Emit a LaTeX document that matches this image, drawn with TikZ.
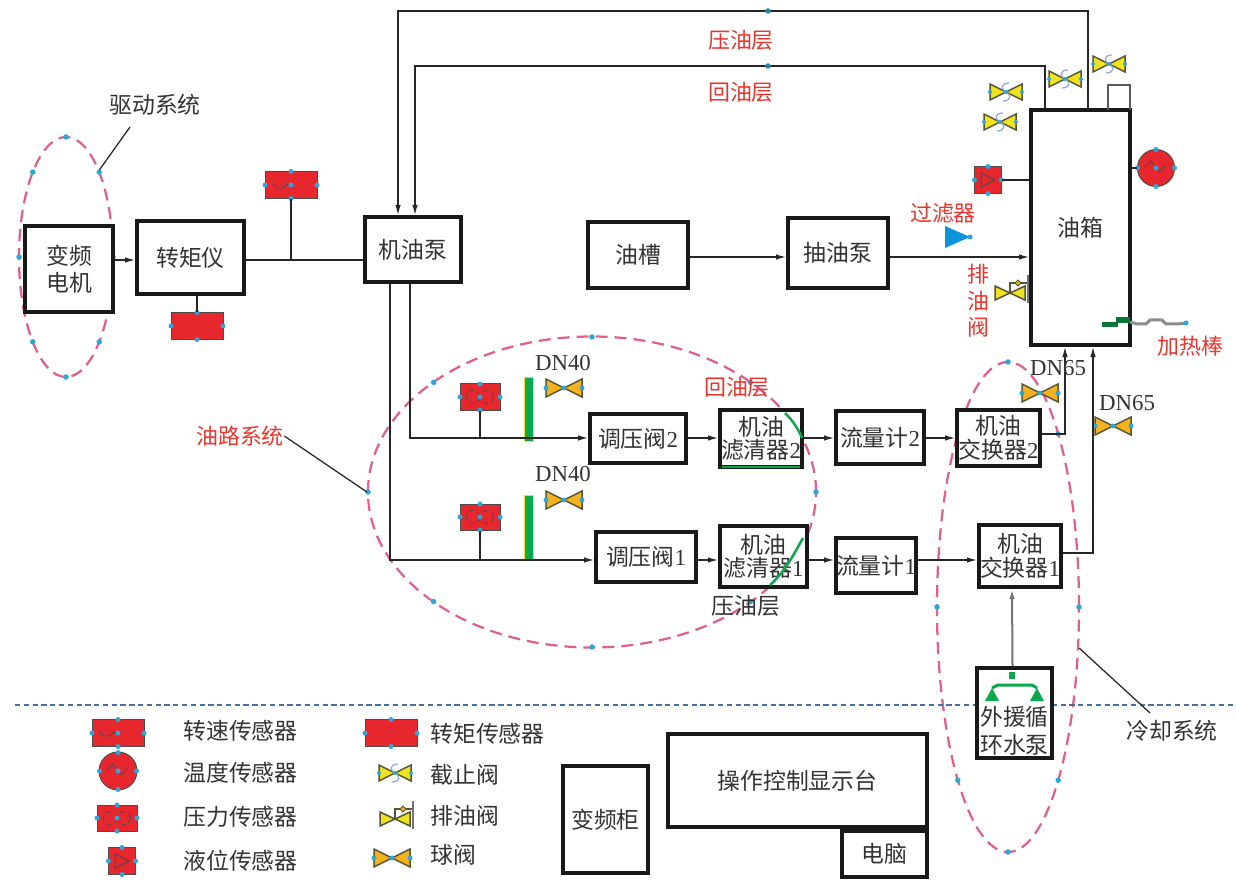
\documentclass[tikz,border=0pt]{standalone}
\usepackage{fontspec}
\setmainfont{Liberation Serif}
\newfontfamily\cjk{Noto Sans CJK SC}
\usepackage{xcolor}
\usetikzlibrary{positioning, shapes.geometric, arrows.meta, calc}

\definecolor{ringpink}{HTML}{E0608A}
\definecolor{sensorred}{HTML}{E8262E}
\definecolor{handleblue}{HTML}{2FA6D8}
\definecolor{barqreen}{HTML}{0DA84E}
\definecolor{stopyellow}{HTML}{EFE21E}
\definecolor{ballorange}{HTML}{F5B21B}
\definecolor{valveedge}{HTML}{55553A}
\definecolor{txtgray}{HTML}{333333}
\definecolor{noteblue}{HTML}{4A6FA5}
\definecolor{notered}{HTML}{E8352E}

\tikzset{
  handle/.style={fill=handleblue},
  sysbox/.style={draw=black!90, line width=0.8mm, fill=white, align=center, inner sep=0pt, text=txtgray, font=\fontsize{13}{13.5}\selectfont\cjk},
  boxtext/.style={align=center, inner sep=0pt, text=txtgray, font=\fontsize{13}{13.5}\selectfont\cjk},
  redtext/.style={align=center, inner sep=0pt, text=notered, font=\fontsize{12.5}{15}\selectfont\cjk},
  dntext/.style={inner sep=0pt, text=txtgray, font=\fontsize{13}{15}\selectfont},
  flow/.style={->, line width=0.25mm, draw=black!85},
  wire/.style={line width=0.25mm, draw=black!85},
  ring/.style={ellipse, draw=ringpink, line width=0.45mm, dash pattern=on 2.4mm off 1.4mm, inner sep=0pt},
  sensor/.style={draw=black!70, fill=sensorred, line width=0.2mm, inner sep=0pt},
  speedbox/.style={sensor, minimum width=10.4mm, minimum height=5.4mm},
  pressbox/.style={sensor, minimum width=8mm, minimum height=5.2mm},
  levelbox/.style={sensor, minimum width=5.4mm, minimum height=5.4mm},
  tempbox/.style={sensor, circle, minimum size=7.4mm},
  greenbar/.style={draw=stopyellow, fill=barqreen, line width=0.15mm, minimum width=1.7mm, inner sep=0pt},
  pics/sidedots/.style 2 args={code={
    \foreach \p in {(#1,0),(-#1,0),(0,#2),(0,-#2)}
      \fill[handle] \p circle (0.5mm);
  }},
  pics/speedface/.style={code={
    \draw[black!70, line width=0.15mm] (-19,-2) -- (-14,3) -- (-8,3) -- (-4,-1) -- (0,2);
    \pic {sidedots={26}{13.5}};
    \fill[handle] (0,0) circle (0.5mm);
  }},
  pics/torqueface/.style={code={
    \pic {sidedots={26}{13.5}};
  }},
  pics/pressface/.style={code={
    \draw[black!70, line width=0.15mm, densely dashed] (-7,0) circle (1.3mm) (7,0) circle (1.3mm);
    \pic {sidedots={20}{13}};
    \fill[handle] (0,0) circle (0.5mm);
  }},
  pics/levelface/.style={code={
    \draw[black!70, line width=0.2mm] (-7,-7) -- (7,0) -- (-7,7) -- cycle;
    \pic {sidedots={13.5}{13.5}};
  }},
  pics/tempface/.style={code={
    \draw[black!70, line width=0.15mm] (-11,-1) -- (-5,-7) -- (0,0) -- (4,4) -- (10,-4);
    \pic {sidedots={18.5}{18.5}};
    \fill[handle] (0,0) circle (0.5mm);
  }},
  pics/stopvalve/.style={code={
    \filldraw[fill=stopyellow, draw=valveedge, line width=0.3mm]
      (-16,-8) -- (0,0) -- (-16,8) -- cycle (16,-8) -- (0,0) -- (16,8) -- cycle;
    \draw[noteblue!60, line width=0.25mm] (3,-9) .. controls (-6,-9) and (-5,-2) .. (0,0) .. controls (5,2) and (6,9) .. (-3,9);
    \foreach \p in {(-16,0),(16,0),(0,0)} \fill[handle] \p circle (0.4mm);
  }},
  pics/ballvalve/.style={code={
    \filldraw[fill=ballorange, draw=valveedge, line width=0.3mm]
      (-18,-9) -- (0,0) -- (-18,9) -- cycle (18,-9) -- (0,0) -- (18,9) -- cycle;
    \foreach \p in {(-18,0),(18,0),(0,0)} \fill[handle] \p circle (0.5mm);
  }},
  pics/drainvalve/.style={code={
    \draw[valveedge, line width=0.25mm] (0,0) -- (0,-10) -- (18,-10);
    \draw[black!55, line width=0.4mm] (18,-18) -- (18,10);
    \filldraw[fill=ballorange, draw=valveedge, line width=0.2mm] (8,-13) -- (11,-10) -- (8,-7) -- (5,-10) -- cycle;
    \filldraw[fill=stopyellow, draw=valveedge, line width=0.3mm]
      (-15,-7) -- (0,0) -- (-15,7) -- cycle (15,-7) -- (0,0) -- (15,7) -- cycle;
  }},
}

\begin{document}
\begin{tikzpicture}[x=0.2mm, y=-0.2mm, >={Latex[length=2mm, width=1.1mm]}]
  \useasboundingbox (0,0) rectangle (1236,885);

  % system rings
  \node[ring, minimum width=18.8mm, minimum height=48mm] (drive-ring) at (66,257) {};
  \node[ring, minimum width=89.6mm, minimum height=62.2mm] (oil-ring) at (592,492) {};
  \node[ring, minimum width=28.4mm, minimum height=98mm] (cool-ring) at (1008,607) {};
  \foreach \cx/\cy/\rx/\ry in {66/257/47/120, 592/492/224/155, 1008/607/71/245}
    \foreach \a in {0,45,...,315}
      \fill[handle] (\cx,\cy) ++(\a:{\rx} and {\ry}) circle (0.55mm);

  \draw[noteblue, line width=0.3mm, densely dashed] (15,705) -- (1236,705);

  % boxes
  \node[sysbox, minimum width=17.6mm, minimum height=17.2mm] (motor) at (69,269) {变频\\[2pt]电机};
  \node[sysbox, minimum width=21.4mm, minimum height=14.6mm] (torquemeter) at (190.5,257.5) {转矩仪};
  \node[sysbox, minimum width=19.2mm, minimum height=13mm] (oilpump) at (413,249.5) {机油泵};
  \node[sysbox, minimum width=20mm, minimum height=13.2mm] (sump) at (638,255) {油槽};
  \node[sysbox, minimum width=20mm, minimum height=14mm] (suction) at (838,253) {抽油泵};
  \node[sysbox, minimum width=19.8mm, minimum height=47mm] (tank) at (1080.5,227.5) {油箱};

  \node[sysbox, minimum width=19.2mm, minimum height=9.8mm] (reg2) at (638,438.5) {调压阀\textrm{2}};
  \node[sysbox, minimum width=16.4mm, minimum height=11.4mm] (filter2) at (761,438.5) {机油\\滤清器\textrm{2}};
  \node[sysbox, minimum width=17.6mm, minimum height=10.6mm] (flow2) at (880,437.5) {流量计\textrm{2}};
  \node[sysbox, minimum width=16.6mm, minimum height=11.2mm] (cooler2) at (998.5,438) {机油\\交换器\textrm{2}};

  \node[sysbox, minimum width=20mm, minimum height=10mm] (reg1) at (646,557) {调压阀\textrm{1}};
  \node[sysbox, minimum width=17.4mm, minimum height=12.2mm] (filter1) at (763.5,556.5) {机油\\滤清器\textrm{1}};
  \node[sysbox, minimum width=15.6mm, minimum height=11mm] (flow1) at (876,565.5) {流量计\textrm{1}};
  \node[sysbox, minimum width=16.4mm, minimum height=12.4mm] (cooler1) at (1020,556) {机油\\交换器\textrm{1}};

  \node[sysbox, minimum width=15mm, minimum height=18mm] (waterpump) at (1014.5,713) {};
  \node[boxtext] (waterpump-text) at (1014.5,731) {外援循\\[2.5pt]环水泵};

  \node[sysbox, minimum width=51.8mm, minimum height=18.6mm] (console) at (797.5,780.5) {操作控制显示台};
  \node[sysbox, minimum width=17mm, minimum height=21.4mm] (vfd) at (605.5,819.5) {变频柜};
  \node[sysbox, minimum width=17mm, minimum height=9.2mm] (pc) at (884.5,854) {电脑};

  % green marks on the filters and the pump
  \draw[barqreen, line width=0.5mm] (785,413) .. controls (792,420) and (798,428) .. (802,438);
  \draw[barqreen, line width=0.4mm] (722,467) -- (800,467);
  \draw[barqreen, line width=0.5mm] (803,538) .. controls (795,552) and (785,572) .. (770,585);
  \fill[barqreen] (1009,672) rectangle (1015,679);
  \fill[barqreen] (985,701) -- (992,688) -- (999,701) -- cycle (1030,701) -- (1037,688) -- (1044,701) -- cycle;
  \draw[barqreen, line width=0.6mm] (992,688) -- (998,685) -- (1032,685) -- (1037,688);

  % sensors
  \node[speedbox] (speed-sensor) at (291,185) {};
  \node[speedbox] (torque-sensor) at (197,326) {};
  \node[pressbox] (press-sensor2) at (480,397) {};
  \node[pressbox] (press-sensor1) at (480,517) {};
  \node[levelbox] (level-sensor) at (988,180) {};
  \node[tempbox] (temp-sensor) at (1156,168) {};
  \pic at (speed-sensor) {speedface};
  \pic at (torque-sensor) {torqueface};
  \pic at (press-sensor2) {pressface};
  \pic at (press-sensor1) {pressface};
  \pic at (level-sensor) {levelface};
  \pic at (temp-sensor) {tempface};

  \node[greenbar, minimum height=12.8mm] (bar2) at (529,409) {};
  \node[greenbar, minimum height=13mm] (bar1) at (529,527.5) {};

  % valves
  \pic at (564,388) {ballvalve};
  \pic at (564,500) {ballvalve};
  \pic at (1040,393) {ballvalve};
  \pic at (1113,426) {ballvalve};
  \pic at (1006,92) {stopvalve};
  \pic at (1000,122) {stopvalve};
  \pic at (1065,79) {stopvalve};
  \pic at (1109,64) {stopvalve};
  \pic at (1010,293) {drainvalve};

  % filter and heater
  \fill[cyan!80!blue] (945,226) -- (970,237) -- (945,248) -- cycle;
  \fill[handle] (970,237) circle (0.5mm);
  \draw[black!65, line width=0.5mm] (1108,110) -- (1108,85) -- (1130,85) -- (1130,110);
  \draw[black!45, line width=0.6mm] (1130,322) -- (1137,324) -- (1146,324) -- (1150,320) -- (1162,320) -- (1166,324) -- (1178,324) -- (1186,323);
  \fill[barqreen!70!black] (1102,322) rectangle (1118,327);
  \fill[barqreen!70!black] (1116,317) rectangle (1130,323);
  \fill[handle] (1186,323) circle (0.5mm);

  % connectors
  \coordinate (line0) at (0,260);
  \coordinate (line3) at (0,257);
  \coordinate (line2) at (0,438);
  \coordinate (line1) at (0,560);
  \coordinate (press-top) at (1088,11);
  \coordinate (return-top) at (1045,66);

  \draw[flow] (motor.east |- line0) -- (torquemeter.west |- line0);
  \draw[wire] (torquemeter.east |- line0) -- (oilpump.west |- line0);
  \draw[wire] (speed-sensor) -- (speed-sensor |- line0);
  \draw[wire] (torque-sensor) -- (torque-sensor |- torquemeter.south);

  \draw[flow] (tank.north -| press-top) -- (press-top) -| ($(oilpump.north)+(-15,0)$);
  \draw[flow] (tank.north -| return-top) -- (return-top) -| ($(oilpump.north)+(2,0)$);
  \fill[handleblue!80!black] (768,11) circle (0.55mm) (768,66) circle (0.55mm);

  \draw[flow] ($(oilpump.south)+(-23,0)$) |- (reg1.west |- line1);
  \draw[flow] ($(oilpump.south)+(-3,0)$) |- (reg2.west |- line2);
  \draw[wire] (press-sensor2) -- (press-sensor2 |- line2);
  \draw[wire] (press-sensor1) -- (press-sensor1 |- line1);

  \draw[flow] (reg2.east |- line2) -- (filter2.west |- line2);
  \draw[flow] (filter2.east |- line2) -- (flow2.west |- line2);
  \draw[flow] (flow2.east |- line2) -- (cooler2.west |- line2);
  \draw[flow] (reg1.east |- line1) -- (filter1.west |- line1);
  \draw[flow] (filter1.east |- line1) -- (flow1.west |- line1);
  \draw[flow] (flow1.east |- line1) -- (cooler1.west |- line1);

  \coordinate (drain2) at (1065,434);
  \coordinate (drain1) at (1093,553);
  \draw[flow] (cooler2.east |- drain2) -- (drain2) -- (drain2 |- tank.south);
  \draw[flow] (cooler1.east |- drain1) -- (drain1) -- (drain1 |- tank.south);
  \draw[flow, draw=black!55, line width=0.4mm] ($(waterpump.north)+(-2,0)$) -- ($(cooler1.south)+(-8,0)$);

  \draw[flow] (sump.east |- line3) -- (suction.west |- line3);
  \draw[flow] (suction.east |- line3) -- (tank.west |- line3);
  \draw[wire] (level-sensor) -- (level-sensor -| tank.west);
  \draw[wire] (temp-sensor) -- (temp-sensor -| tank.east);

  % labels
  \node[redtext] (press-layer) at (741,40) {压油层};
  \node[redtext] (return-layer) at (741,92) {回油层};
  \node[redtext] (filter-tag) at (943,213) {过滤器};
  \node[redtext] (drain-tag) at (978,301) {排\\油\\阀};
  \node[redtext] (heater-tag) at (1190,346) {加热棒};
  \node[redtext] (return-layer2) at (737,387) {回油层};
  \node[redtext] (oil-tag) at (240,436) {油路系统};
  \node[boxtext] (press-layer2) at (746,606) {压油层};
  \node[boxtext] (drive-tag) at (155,105) {驱动系统};
  \node[boxtext] (cool-tag) at (1172,731) {冷却系统};
  \node[dntext] (dn40a) at (563,363) {DN40};
  \node[dntext] (dn40b) at (563,474) {DN40};
  \node[dntext] (dn65a) at (1058,368) {DN65};
  \node[dntext] (dn65b) at (1127,403) {DN65};

  \coordinate (drive-lead) at (130,127);
  \coordinate (cool-lead) at (1150,713);
  \draw[wire] (drive-lead) -- (drive-ring.69);
  \draw[wire] (oil-tag.east) -- (oil-ring.180);
  \draw[wire] (cool-lead) -- (cool-ring.330);

  % legend
  \node[speedbox] (leg-speed) at (118,733) {};
  \node[tempbox, minimum size=7.6mm] (leg-temp) at (118,771) {};
  \node[pressbox] (leg-press) at (117,818) {};
  \node[levelbox] (leg-level) at (122,861) {};
  \node[speedbox] (leg-torque) at (391,733) {};
  \pic at (leg-speed) {speedface};
  \pic at (leg-temp) {tempface};
  \pic at (leg-press) {pressface};
  \pic at (leg-level) {levelface};
  \pic at (leg-torque) {torqueface};
  \pic at (395,773) {stopvalve};
  \pic at (395,819) {drainvalve};
  \pic at (392,858) {ballvalve};

  \node[boxtext, anchor=west] (txt-speed) at (183,731) {转速传感器};
  \node[boxtext, anchor=west] (txt-temp) at (183,773) {温度传感器};
  \node[boxtext, anchor=west] (txt-press) at (183,817) {压力传感器};
  \node[boxtext, anchor=west] (txt-level) at (183,861) {液位传感器};
  \node[boxtext, anchor=west] (txt-torque) at (430,734) {转矩传感器};
  \node[boxtext, anchor=west] (txt-stop) at (430,775) {截止阀};
  \node[boxtext, anchor=west] (txt-drain) at (430,816) {排油阀};
  \node[boxtext, anchor=west] (txt-ball) at (430,855) {球阀};
\end{tikzpicture}
\end{document}
